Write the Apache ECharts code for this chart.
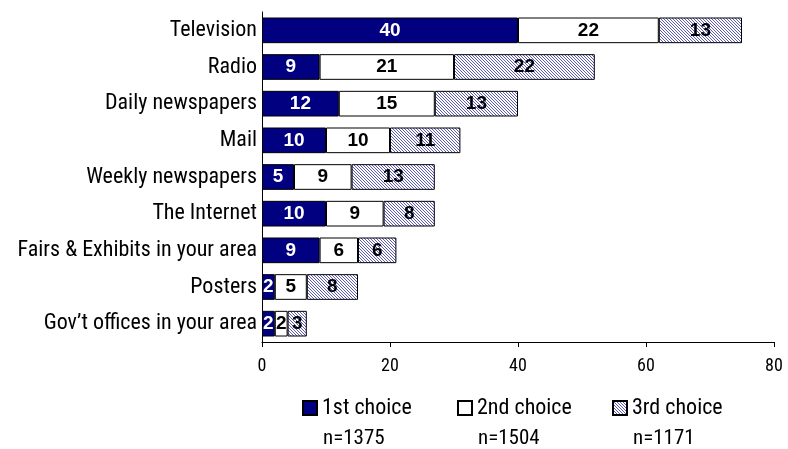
<!DOCTYPE html>
<html>
<head>
<meta charset="utf-8">
<script src="https://cdn.jsdelivr.net/npm/echarts@6/dist/echarts.min.js"></script>
<style>
  html, body { margin: 0; padding: 0; background: #fff; }
  #chart { width: 788px; height: 449px; }
</style>
</head>
<body>
<div id="chart"></div>
<script>
// Media sources, top to bottom
const categories = [
  'Television', 'Radio', 'Daily newspapers', 'Mail', 'Weekly newspapers',
  'The Internet', 'Fairs & Exhibits in your area', 'Posters', 'Gov\u2019t offices in your area'
];
const firstChoice  = [40, 9, 12, 10, 5, 10, 9, 2, 2];
const secondChoice = [22, 21, 15, 10, 9, 9, 6, 5, 2];
const thirdChoice  = [13, 22, 13, 11, 13, 8, 6, 8, 3];
const seriesNames = ['1st choice', '2nd choice', '3rd choice'];
const sampleSizes = ['n=1375', 'n=1504', 'n=1171'];
const xTicks = [0, 20, 40, 60, 80];

const narrow = '"Roboto Condensed", "DejaVu Sans Condensed", sans-serif';
const bold = '"Liberation Sans", Arial, sans-serif';

// Fine diagonal hatch fill for the third series
function hatch() {
  const c = document.createElement('canvas');
  c.width = 3; c.height = 3;
  const g = c.getContext('2d');
  g.fillStyle = '#ffffff';
  g.fillRect(0, 0, 3, 3);
  g.fillStyle = '#5c5cb8';
  for (let i = 0; i < 3; i++) g.fillRect(i, i, 1, 1);
  return c;
}

const chart = echarts.init(document.getElementById('chart'), null, { renderer: 'canvas' });

function barSeries(name, data, fill, labelColor) {
  return {
    name: name,
    type: 'bar',
    stack: 'all',
    data: data,
    barCategoryGap: '30%',
    itemStyle: { color: fill, borderColor: '#000', borderWidth: 1 },
    label: {
      show: true,
      position: 'inside',
      color: labelColor,
      fontFamily: bold,
      fontWeight: 'bold',
      fontSize: 19
    },
    emphasis: { disabled: true },
    animation: false
  };
}

const legendLefts = [302, 457, 612];
const legends = seriesNames.map((n, i) => ({
  data: [n],
  left: legendLefts[i],
  top: 397,
  icon: 'rect',
  itemWidth: 14,
  itemHeight: 14,
  itemGap: 0,
  padding: 0,
  textStyle: { fontFamily: narrow, fontSize: 22, color: '#000' },
  selectedMode: false
}));

chart.setOption({
  animation: false,
  grid: { left: 262, right: 14, top: 12, bottom: 107, containLabel: false },
  legend: legends,
  xAxis: {
    type: 'value',
    min: 0, max: 80, interval: 20,
    axisLine: { show: true, lineStyle: { color: '#000', width: 1 } },
    axisTick: { show: true, length: 5, lineStyle: { color: '#000' } },
    splitLine: { show: false },
    axisLabel: {
      fontFamily: narrow, fontSize: 18, color: '#000', margin: 15,
      formatter: v => (xTicks.indexOf(v) >= 0 ? String(v) : '')
    }
  },
  yAxis: {
    type: 'category',
    inverse: true,
    data: categories,
    axisLine: { show: true, lineStyle: { color: '#000', width: 1 } },
    axisTick: { show: false },
    axisLabel: { fontFamily: narrow, fontSize: 22, color: '#000', margin: 5 }
  },
  series: [
    barSeries(seriesNames[0], firstChoice, '#000080', '#ffffff'),
    barSeries(seriesNames[1], secondChoice, '#ffffff', '#000000'),
    barSeries(seriesNames[2], thirdChoice, { image: hatch(), repeat: 'repeat' }, '#000000')
  ],
  graphic: sampleSizes.map((t, i) => ({
    type: 'text',
    left: legendLefts[i] + 21,
    top: 428,
    style: { text: t, fontFamily: narrow, fontSize: 21, fill: '#000' }
  }))
});
</script>
</body>
</html>
